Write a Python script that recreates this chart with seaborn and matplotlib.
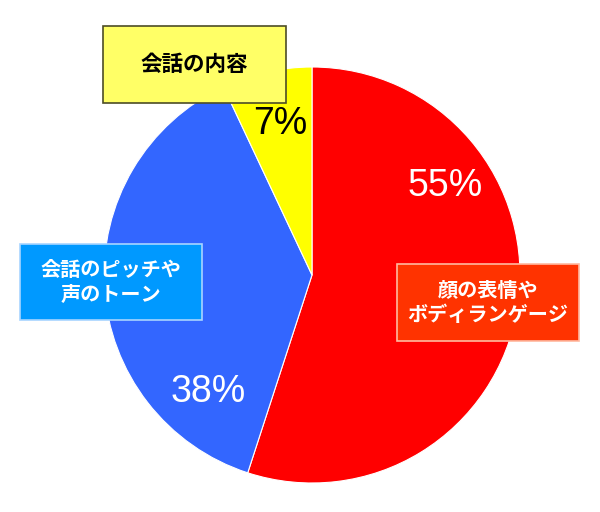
import matplotlib
matplotlib.use("Agg")
import matplotlib.pyplot as plt
from matplotlib.patches import Rectangle
import seaborn as sns

# data
categories = ["顔の表情や\nボディランゲージ", "会話のピッチや\n声のトーン", "会話の内容"]
shares = [55, 38, 7]
slice_colors = ["#FF0000", "#3366FF", "#FFFF00"]
pct_colors = ["white", "white", "black"]

# label boxes: (x0, y0, x1, y1) in pixels from top-left, face, edge, text color, size
boxes = [
    ((397, 264, 579, 341), "#FF3300", "#FFB9A0", "white", 14.5),
    ((20, 244, 202, 320), "#0099FF", "#A8D4FF", "white", 14.5),
    ((103, 26, 286, 103), "#FFFF66", "#4D4D26", "black", 15.5),
]
pct_pos = [(445, 186), (208, 392), (280, 124)]

W, H = 600, 512
CENTER = (312, H - 275)
RADIUS = 208

sns.set_theme(style="white")
plt.rcParams['font.family'] = ['Noto Sans CJK JP', 'DejaVu Sans']

fig = plt.figure(figsize=(6, 5.12), dpi=100)
ax = fig.add_axes([0, 0, 1, 1])

ax.pie(shares, colors=slice_colors, startangle=90, counterclock=False,
       center=CENTER, radius=RADIUS,
       wedgeprops=dict(edgecolor='white', linewidth=0.8))

# percent labels
for v, (px, py), c in zip(shares, pct_pos, pct_colors):
    ax.text(px, H - py, f'{v}%', ha='center', va='center', color=c,
            fontsize=27, family=['Liberation Sans', 'DejaVu Sans'])

# category boxes
for label, ((x0, y0, x1, y1), face, edge, tc, fs) in zip(categories, boxes):
    ax.add_patch(Rectangle((x0, H - y1), x1 - x0, y1 - y0,
                           facecolor=face, edgecolor=edge, linewidth=1.2, zorder=3))
    ax.text((x0 + x1) / 2, H - (y0 + y1) / 2, label, ha='center', va='center',
            color=tc, fontsize=fs, fontweight='bold', linespacing=1.2, zorder=4)

ax.set_xlim(0, W)
ax.set_ylim(0, H)
ax.set_aspect('equal')
ax.axis('off')

fig.savefig('out.png', dpi=100)
